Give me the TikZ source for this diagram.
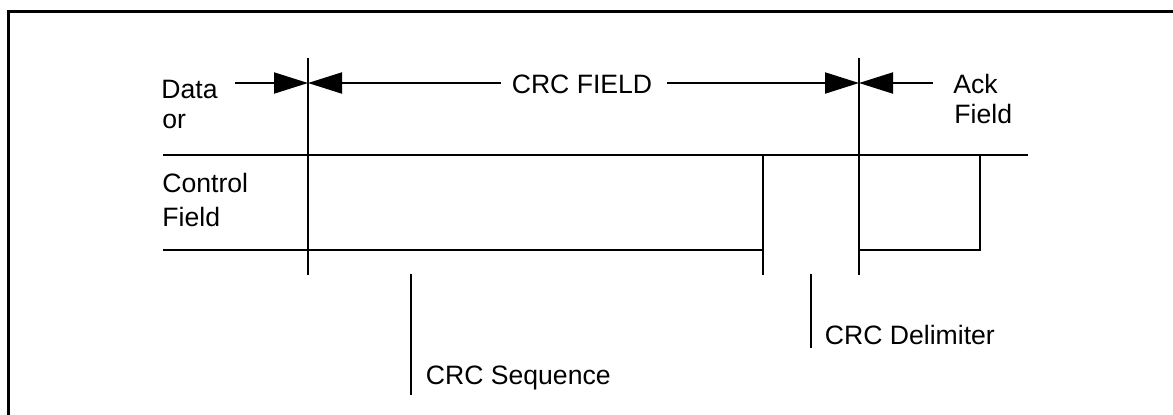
\documentclass[tikz,border=0pt]{standalone}
\usepackage{fontspec}
\setmainfont{Liberation Sans}
\usetikzlibrary{arrows.meta}
\begin{document}
\begin{tikzpicture}[x=0.5pt,y=-0.5pt,
  ln/.style={line width=1pt},
  framebox/.style={line width=1.35pt},
  lbl/.style={inner sep=0pt,anchor=base west,font=\fontsize{13.3}{15}\selectfont},
  tipped/.style={ln,-{Triangle[length=17pt,width=10.5pt]}}]
\useasboundingbox (0,0) rectangle (1173,414);
% frame
\coordinate (fbl) at (8.7,418);
\coordinate (ftl) at (8.7,11.3);
\coordinate (ftr) at (1177,11.3);
\draw[framebox] (fbl) -- (ftl) -- (ftr);
% structural coordinates
\coordinate (v1t) at (308,58);   \coordinate (v1b) at (308,275);
\coordinate (v2t) at (859,58);   \coordinate (v2b) at (859,275);
\coordinate (v3t) at (763,155);  \coordinate (v3b) at (763,275);
\coordinate (v4t) at (980,155);  \coordinate (v4b) at (980,250);
\coordinate (htl) at (163,155);  \coordinate (htr) at (1028,155);
\coordinate (hbl) at (163,250);  \coordinate (hbm) at (763,250);
\coordinate (hbr) at (859,250);
\coordinate (a1) at (235,83);    \coordinate (t1) at (308,83);
\coordinate (a2) at (500.7,83);
\coordinate (a3) at (667,83);    \coordinate (t2) at (859,83);
\coordinate (a4) at (933,83);
\coordinate (sqt) at (411,274);  \coordinate (sqb) at (411,395);
\coordinate (dlt) at (810.5,274); \coordinate (dlb) at (810.5,348);
% lines
\draw[ln] (v1t) -- (v1b);
\draw[ln] (v2t) -- (v2b);
\draw[ln] (v3t) -- (v3b);
\draw[ln] (htl) -- (htr);
\draw[ln] (hbl) -- (hbm);
\draw[ln] (hbr) -- (v4b) -- (v4t);
\draw[ln] (sqt) -- (sqb);
\draw[ln] (dlt) -- (dlb);
% arrows
\draw[tipped] (a1) -- (t1);
\draw[tipped] (a2) -- (t1);
\draw[tipped] (a3) -- (t2);
\draw[tipped] (a4) -- (t2);
% labels
\node[lbl] (data) at (161,98) {Data};
\node[lbl] (or) at (162,128) {or};
\node[lbl] (control) at (162,192) {Control};
\node[lbl] (field1) at (162,226) {Field};
\node[lbl,anchor=base] (crcf) at (582,93) {CRC FIELD};
\node[lbl] (ack) at (953,93) {Ack};
\node[lbl] (field2) at (954,123) {Field};
\node[lbl] (seq) at (425.5,384) {CRC Sequence};
\node[lbl] (delim) at (824.5,344) {CRC Delimiter};
\end{tikzpicture}
\end{document}
